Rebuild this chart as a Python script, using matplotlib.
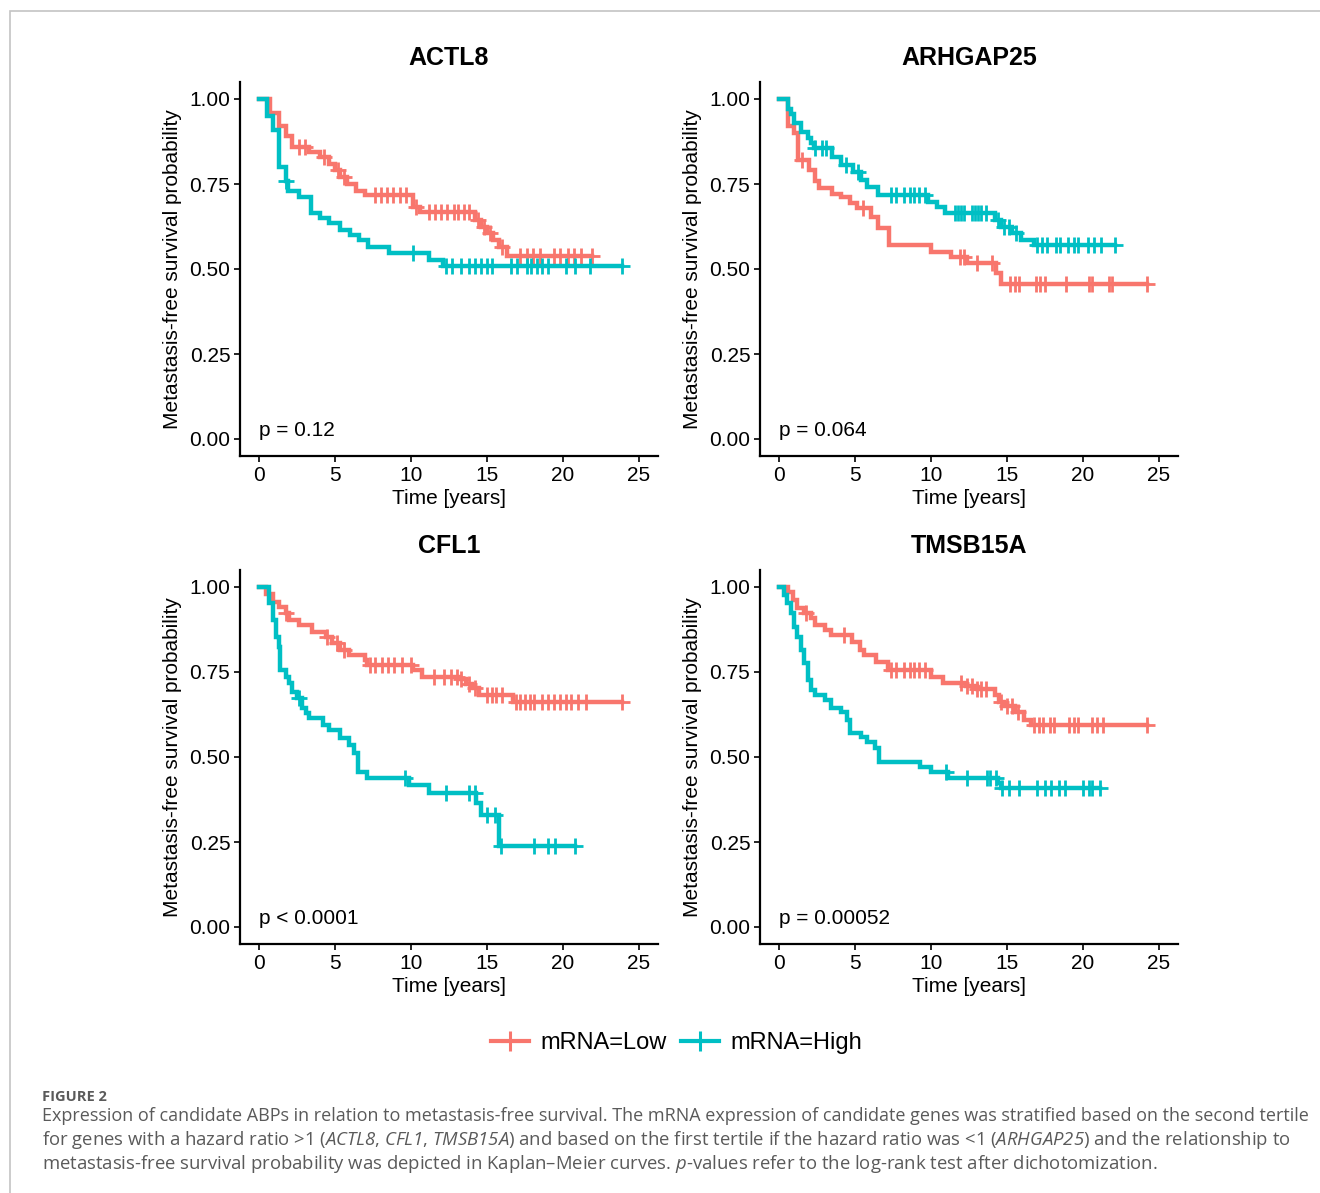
import numpy as np
import matplotlib
matplotlib.use("Agg")
import matplotlib.pyplot as plt
from matplotlib.lines import Line2D
from matplotlib.patches import Rectangle

plt.rcParams["font.family"] = ["Liberation Sans", "DejaVu Sans"]
# italic caption words (gene names, p) go through mathtext \mathrm, mapped to an italic face
plt.rcParams["mathtext.fontset"] = "custom"
plt.rcParams["mathtext.rm"] = "Open Sans:italic"
plt.rcParams["mathtext.it"] = "Open Sans:italic"

# ---- data ----
genes = ["ACTL8", "ARHGAP25", "CFL1", "TMSB15A"]
p_labels = ["p = 0.12", "p = 0.064", "p < 0.0001", "p = 0.00052"]
group_names = ["mRNA=Low", "mRNA=High"]

# ACTL8
actl8_low_t = [0, 0.7, 1.3, 1.8, 2.2, 3.3, 4.0, 4.6, 5.0, 5.3, 5.8, 6.4, 7.0, 10.1, 10.6, 14.2, 14.6, 15.0, 15.4, 15.8, 16.3]
actl8_low_s = [1.0, 0.96, 0.92, 0.89, 0.86, 0.845, 0.83, 0.81, 0.79, 0.77, 0.75, 0.73, 0.718, 0.683, 0.668, 0.645, 0.625, 0.605, 0.585, 0.565, 0.538]
actl8_low_cens = [2.6, 3.0, 4.3, 5.2, 5.6, 7.6, 8.0, 8.4, 8.8, 9.3, 9.7, 10.3, 11.2, 11.6, 12.0, 12.4, 12.8, 13.1, 13.5,
                  13.8, 14.4, 14.8, 15.2, 16.0, 17.2, 17.6, 18.0, 18.5, 19.4, 19.8, 20.3, 20.7, 21.2, 21.9]
actl8_high_t = [0, 0.5, 0.9, 1.3, 1.75, 1.9, 2.6, 3.4, 4.0, 4.6, 5.3, 6.0, 6.6, 7.2, 8.55, 11.2, 12.1]
actl8_high_s = [1.0, 0.95, 0.91, 0.80, 0.76, 0.73, 0.713, 0.664, 0.65, 0.635, 0.615, 0.60, 0.585, 0.565, 0.546, 0.526, 0.509]
actl8_high_cens = [1.8, 10.1, 12.3, 12.7, 13.3, 13.8, 14.2, 14.6, 15.0, 15.3, 16.6, 17.0, 17.6, 17.9, 18.3, 18.6, 19.0,
                   20.2, 20.8, 21.8, 23.9]

# ARHGAP25
arhgap25_low_t = [0, 0.6, 1.0, 1.25, 2.0, 2.4, 2.6, 3.5, 4.1, 4.7, 5.1, 6.05, 6.5, 7.25, 10.0, 11.3, 12.4, 14.3, 14.6]
arhgap25_low_s = [1.0, 0.92, 0.90, 0.82, 0.79, 0.76, 0.738, 0.72, 0.713, 0.694, 0.68, 0.654, 0.62, 0.57, 0.551, 0.536, 0.517, 0.488, 0.457]
arhgap25_low_cens = [1.5, 5.5, 11.9, 12.2, 13.0, 14.0, 15.2, 15.5, 15.8, 16.9, 17.2, 17.5, 18.9, 20.4, 20.6, 21.7, 21.9, 24.2]
arhgap25_high_t = [0, 0.6, 0.8, 1.0, 1.45, 1.9, 2.1, 2.3, 3.5, 4.1, 4.9, 5.4, 5.8, 6.5, 9.8, 10.4, 10.9, 14.2, 14.6, 15.3, 15.9, 16.8]
arhgap25_high_s = [1.0, 0.97, 0.955, 0.93, 0.904, 0.885, 0.87, 0.856, 0.83, 0.806, 0.786, 0.762, 0.742, 0.718, 0.698, 0.683,
                   0.664, 0.644, 0.624, 0.605, 0.585, 0.571]
arhgap25_high_cens = [2.4, 2.8, 3.1, 4.4, 5.2, 7.4, 7.7, 8.2, 8.6, 8.9, 9.2, 9.6, 11.6, 11.8, 12.0, 12.2, 12.7, 12.9, 13.1,
                      13.3, 13.6, 14.4, 14.8, 15.1, 15.6, 17.0, 17.3, 17.6, 18.2, 18.5, 19.0, 19.4, 19.7, 20.3, 20.7,
                      21.2, 22.1]

# CFL1
cfl1_low_t = [0, 0.45, 0.9, 1.3, 1.75, 2.0, 2.6, 3.5, 4.4, 4.8, 5.3, 5.9, 7.0, 7.1, 10.1, 10.7, 13.2, 13.6, 14.0, 14.5, 16.7]
cfl1_low_s = [1.0, 0.98, 0.957, 0.942, 0.923, 0.903, 0.888, 0.869, 0.854, 0.835, 0.815, 0.80, 0.785, 0.771, 0.756, 0.736,
              0.728, 0.715, 0.703, 0.682, 0.663]
cfl1_low_cens = [1.8, 4.5, 5.1, 5.6, 7.3, 7.6, 8.1, 8.5, 8.9, 9.4, 10.0, 11.5, 12.2, 12.6, 13.0, 13.3, 13.8, 14.2, 15.0,
                 15.3, 15.6, 16.0, 16.9, 17.2, 17.5, 17.8, 18.1, 18.6, 19.0, 19.4, 19.8, 20.2, 20.5, 21.0, 21.5, 23.9]
cfl1_high_t = [0, 0.65, 0.9, 1.1, 1.3, 1.4, 1.75, 2.0, 2.2, 2.5, 2.85, 3.1, 3.3, 4.2, 4.6, 5.3, 5.9, 6.25, 6.5, 7.1, 9.9,
               11.2, 14.3, 14.6, 15.8]
cfl1_high_s = [1.0, 0.952, 0.903, 0.854, 0.825, 0.756, 0.736, 0.717, 0.692, 0.673, 0.644, 0.629, 0.614, 0.594, 0.579,
               0.555, 0.535, 0.511, 0.457, 0.438, 0.418, 0.394, 0.364, 0.33, 0.238]
cfl1_high_cens = [2.6, 9.6, 12.3, 13.8, 14.2, 15.0, 15.5, 15.9, 18.1, 19.0, 19.5, 20.8]

# TMSB15A
tmsb15a_low_t = [0, 0.57, 0.9, 1.2, 1.65, 2.1, 2.4, 3.0, 3.4, 4.8, 5.3, 5.6, 6.4, 7.15, 10.0, 10.8, 12.3, 13.0, 14.2,
                 14.5, 14.8, 15.5, 16.1, 16.6]
tmsb15a_low_s = [1.0, 0.986, 0.962, 0.937, 0.923, 0.908, 0.888, 0.873, 0.859, 0.839, 0.815, 0.80, 0.78, 0.756, 0.736,
                 0.717, 0.71, 0.70, 0.682, 0.663, 0.65, 0.633, 0.609, 0.594]
tmsb15a_low_cens = [1.8, 4.3, 7.4, 7.7, 8.2, 8.6, 8.9, 9.2, 9.6, 12.0, 12.4, 12.7, 13.0, 13.3, 13.6, 14.6, 15.0, 15.3,
                    15.7, 16.8, 17.1, 17.4, 17.8, 18.1, 19.1, 19.4, 19.7, 20.6, 20.9, 21.3, 24.2]
tmsb15a_high_t = [0, 0.35, 0.55, 0.8, 1.0, 1.2, 1.45, 1.65, 1.9, 2.1, 2.4, 3.0, 3.4, 4.1, 4.5, 4.7, 5.4, 5.8, 6.3, 6.6,
                  9.3, 10.0, 11.1, 14.4, 14.6]
tmsb15a_high_s = [1.0, 0.976, 0.952, 0.923, 0.883, 0.854, 0.815, 0.776, 0.726, 0.697, 0.682, 0.668, 0.644, 0.633, 0.609,
                  0.57, 0.56, 0.545, 0.526, 0.486, 0.471, 0.457, 0.438, 0.423, 0.408]
tmsb15a_high_cens = [11.0, 12.4, 13.7, 13.9, 14.3, 14.7, 15.1, 15.8, 17.0, 17.5, 17.9, 18.4, 18.8, 20.0, 20.4, 20.6, 21.1]

curves = {
    "ACTL8": [(actl8_low_t, actl8_low_s, actl8_low_cens), (actl8_high_t, actl8_high_s, actl8_high_cens)],
    "ARHGAP25": [(arhgap25_low_t, arhgap25_low_s, arhgap25_low_cens),
                 (arhgap25_high_t, arhgap25_high_s, arhgap25_high_cens)],
    "CFL1": [(cfl1_low_t, cfl1_low_s, cfl1_low_cens), (cfl1_high_t, cfl1_high_s, cfl1_high_cens)],
    "TMSB15A": [(tmsb15a_low_t, tmsb15a_low_s, tmsb15a_low_cens),
                (tmsb15a_high_t, tmsb15a_high_s, tmsb15a_high_cens)],
}

colors = ["#F8766D", "#00BFC4"]
x_ticks = [0, 5, 10, 15, 20, 25]
y_ticks = [0.0, 0.25, 0.5, 0.75, 1.0]

W, H = 1320, 1193
fig = plt.figure(figsize=(W / 100, H / 100), dpi=100)


def fx(px):
    return px / W


def fy(py):
    return 1 - py / H


# grey frame of the journal figure box
fig.add_artist(Rectangle((fx(10), fy(1260)), fx(1400), fy(11) - fy(1260), transform=fig.transFigure,
                         fill=False, edgecolor="#c4c4c4", lw=1.2))

panel_pos = [(240, 82), (760, 82), (240, 570), (760, 570)]
for gene, pval, (left, top) in zip(genes, p_labels, panel_pos):
    ax = fig.add_axes([fx(left), fy(top + 374), 418 / W, 374 / H])
    for (t, s, cens), col in zip(curves[gene], colors):
        t = np.array(t)
        s = np.array(s)
        cens = np.array(cens)
        t_end = max(t[-1], cens.max())
        ax.step(np.append(t, t_end), np.append(s, s[-1]), where="post", color=col, lw=3.2,
                solid_joinstyle="miter")
        cy = s[np.searchsorted(t, cens, side="right") - 1]
        ax.plot(cens, cy, ls="none", marker="+", color=col, markersize=11, markeredgewidth=2.0)
    ax.set_xlim(-1.25, 26.25)
    ax.set_ylim(-0.05, 1.05)
    ax.set_xticks(x_ticks)
    ax.set_yticks(y_ticks)
    ax.set_yticklabels(["%.2f" % v for v in y_ticks])
    for sp in ["top", "right"]:
        ax.spines[sp].set_visible(False)
    for sp in ["left", "bottom"]:
        ax.spines[sp].set_linewidth(1.6)
    ax.tick_params(labelsize=15, length=4, width=1.2, pad=3, colors="black")
    ax.set_xlabel("Time [years]", fontsize=15, labelpad=3)
    ax.set_ylabel("Metastasis-free survival probability", fontsize=15, labelpad=5)
    ax.set_title(gene, fontsize=18, fontweight="bold", pad=12)
    ax.text(0, 0.026, pval, fontsize=15, ha="left", va="center")

handles = [Line2D([], [], color=c, lw=3.0, marker="+", markersize=14, markeredgewidth=2.2) for c in colors]
fig.legend(handles, group_names, loc="center", bbox_to_anchor=(fx(677), fy(1043)), ncol=2, frameon=False,
           fontsize=17, handlelength=1.6, handletextpad=0.5, columnspacing=0.6)

cap_kw = dict(fontfamily="Open Sans", color="#5a5a5a", ha="left", va="center")
fig.text(fx(42), fy(1097), "FIGURE 2", fontsize=10.5, fontweight="bold", **cap_kw)
fig.text(fx(42), fy(1116), "Expression of candidate ABPs in relation to metastasis-free survival. The mRNA expression "
         "of candidate genes was stratified based on the second tertile", fontsize=13.0, **cap_kw)
fig.text(fx(42), fy(1140), r"for genes with a hazard ratio >1 ($\mathrm{ACTL8}$, $\mathrm{CFL1}$, $\mathrm{TMSB15A}$) "
         r"and based on the first tertile if the hazard ratio was <1 ($\mathrm{ARHGAP25}$) and the relationship to",
         fontsize=13.3, **cap_kw)
fig.text(fx(42), fy(1164), "metastasis-free survival probability was depicted in Kaplan\u2013Meier curves. "
         r"$\mathrm{p}$-values refer to the log-rank test after dichotomization.", fontsize=13.3, **cap_kw)

fig.savefig("out.png", dpi=100)
